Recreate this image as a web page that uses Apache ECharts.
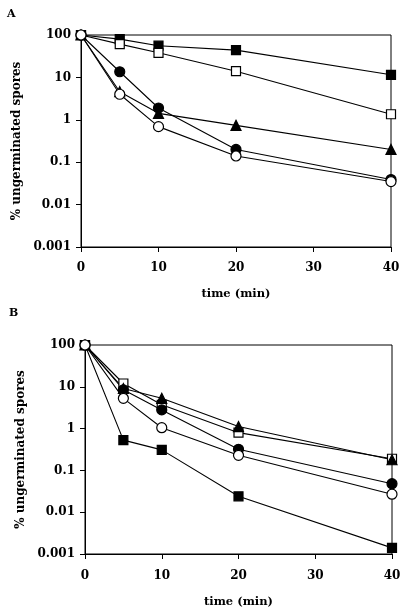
<!DOCTYPE html>
<html><head><meta charset="utf-8">
<script src="https://cdn.jsdelivr.net/npm/echarts@6/dist/echarts.min.js"></script>
<style>html,body{margin:0;padding:0;background:#fff}#c{width:406px;height:614px}</style>
</head><body><div id="c"></div>
<script>
const times = [0, 5, 10, 20, 40];
const xTicks = [0, 10, 20, 30, 40];
const yTicks = [0.001, 0.01, 0.1, 1, 10, 100];
// Panel A
const aFilledSquare = [100, 80, 56, 44, 11.5];
const aOpenSquare   = [100, 61, 38, 14, 1.35];
const aTriangle     = [100, 4.6, 1.42, 0.74, 0.2];
const aFilledCircle = [100, 13.6, 1.9, 0.2, 0.039];
const aOpenCircle   = [100, 4.0, 0.69, 0.14, 0.035];
// Panel B
const bFilledSquare = [100, 0.53, 0.31, 0.024, 0.0014];
const bOpenSquare   = [100, 12, 3.7, 0.8, 0.19];
const bTriangle     = [100, 9.1, 5.3, 1.12, 0.18];
const bFilledCircle = [100, 8.5, 2.8, 0.32, 0.048];
const bOpenCircle   = [100, 5.3, 1.05, 0.23, 0.027];

const font = 'DejaVu Serif';
const chart = echarts.init(document.getElementById('c'));
function pairs(v){ return times.map((t,i)=>[t, v[i]]); }
const styles = {
  fs: {symbol:'rect', symbolSize:9, fill:'#000'},
  os: {symbol:'rect', symbolSize:9, fill:'#fff'},
  tr: {symbol:'triangle', symbolSize:10, fill:'#000'},
  fc: {symbol:'circle', symbolSize:10, fill:'#000'},
  oc: {symbol:'circle', symbolSize:10, fill:'#fff'}
};
function ser(name, data, st, idx){
  const s = styles[st];
  return {name, type:'line', xAxisIndex:idx, yAxisIndex:idx, data:pairs(data),
    symbol:s.symbol, symbolSize:s.symbolSize, showAllSymbol:true,
    lineStyle:{color:'#000', width:1.1},
    itemStyle:{color:s.fill, borderColor:'#000', borderWidth:1.2},
    emphasis:{disabled:true}, animation:false};
}
function xAx(idx, gap, margin){
  return {gridIndex:idx, type:'value', min:0, max:40, interval:10,
    name:'time (min)', nameLocation:'middle', nameGap:gap,
    nameTextStyle:{fontFamily:font, fontWeight:'bold', fontSize:11.5, color:'#000'},
    axisLine:{lineStyle:{color:'#000', width:1}},
    axisTick:{show:true, length:5, lineStyle:{color:'#000'}},
    axisLabel:{fontFamily:font, fontWeight:'bold', fontSize:12, color:'#000', margin:margin},
    splitLine:{show:false}};
}
function yAx(idx, gap){
  return {gridIndex:idx, type:'log', logBase:10, min:0.001, max:100,
    name:'% ungerminated spores', nameLocation:'middle', nameGap:gap, nameRotate:90,
    nameTextStyle:{fontFamily:font, fontWeight:'bold', fontSize:12, color:'#000'},
    axisLine:{show:true, lineStyle:{color:'#000', width:1}},
    axisTick:{show:true, length:5, lineStyle:{color:'#000'}},
    axisLabel:{fontFamily:font, fontWeight:'bold', fontSize:12, color:'#000', margin:10,
      formatter: v => { const r = yTicks.find(t => Math.abs(Math.log10(t) - Math.log10(v)) < 1e-6); return r !== undefined ? String(r) : ''; }},
    splitLine:{show:false}, minorTick:{show:false}};
}
chart.setOption({
  backgroundColor:'#fff',
  animation:false,
  graphic:[
    {type:'text', left:7, top:9, style:{text:'A', font:'bold 11px "DejaVu Serif"', fill:'#000'}},
    {type:'text', left:9, top:308, style:{text:'B', font:'bold 11px "DejaVu Serif"', fill:'#000'}}
  ],
  grid:[
    {left:81, top:35, width:310, height:212, show:true, borderColor:'#000', borderWidth:1, backgroundColor:'transparent'},
    {left:85, top:345, width:307, height:209, show:true, borderColor:'#000', borderWidth:1, backgroundColor:'transparent'}
  ],
  xAxis:[xAx(0, 41, 15), xAx(1, 42, 16)],
  yAxis:[yAx(0, 52), yAx(1, 54)],
  series:[
    ser('A filled square', aFilledSquare, 'fs', 0),
    ser('A open square', aOpenSquare, 'os', 0),
    ser('A triangle', aTriangle, 'tr', 0),
    ser('A filled circle', aFilledCircle, 'fc', 0),
    ser('A open circle', aOpenCircle, 'oc', 0),
    ser('B filled square', bFilledSquare, 'fs', 1),
    ser('B open square', bOpenSquare, 'os', 1),
    ser('B triangle', bTriangle, 'tr', 1),
    ser('B filled circle', bFilledCircle, 'fc', 1),
    ser('B open circle', bOpenCircle, 'oc', 1)
  ]
});
</script></body></html>
